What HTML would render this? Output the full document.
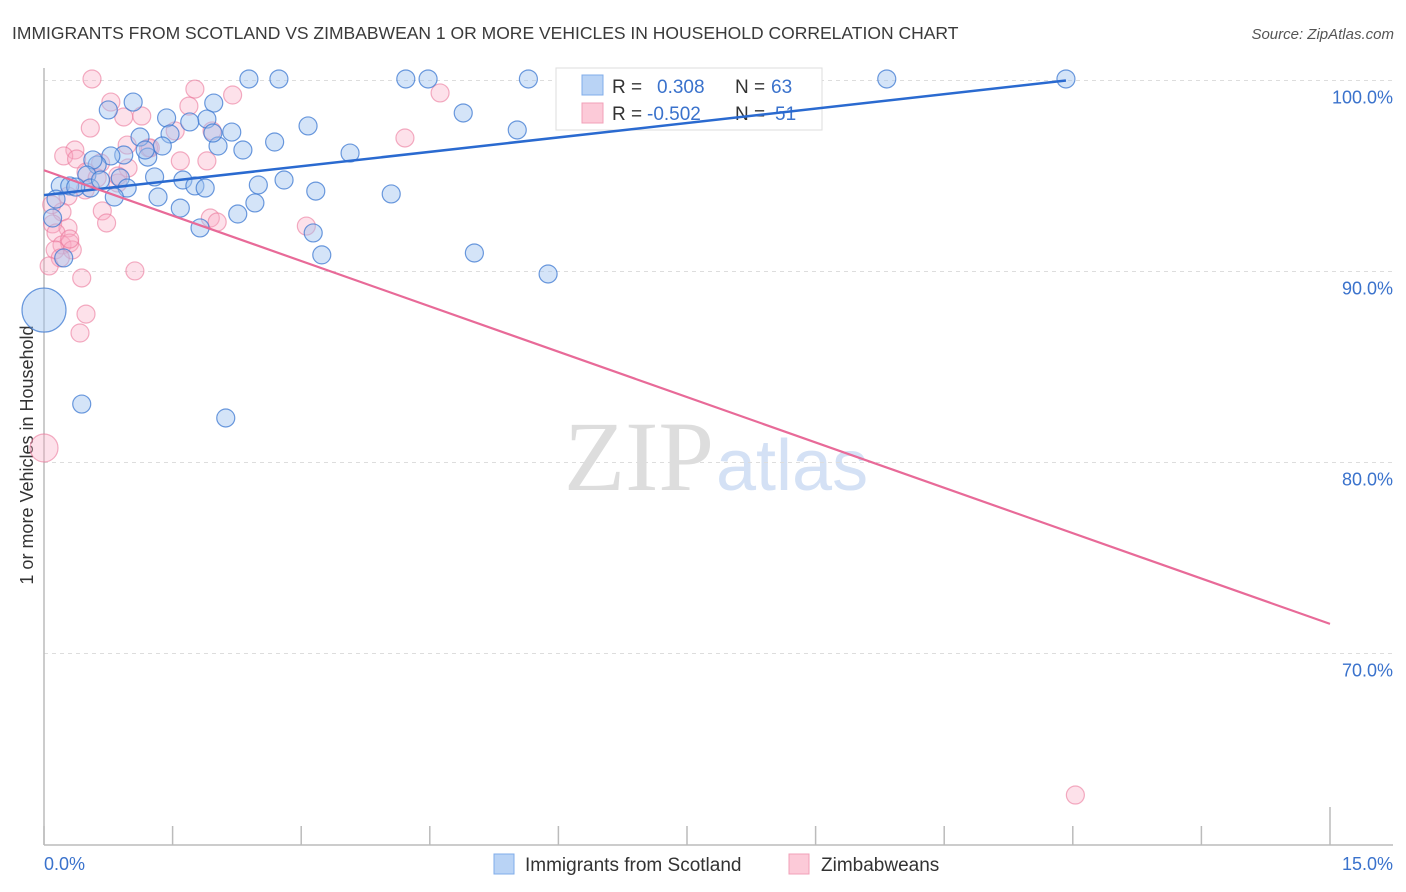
<!DOCTYPE html>
<html><head><meta charset="utf-8"><style>
body{margin:0;background:#fff;font-family:"Liberation Sans",sans-serif}
svg{display:block}
</style></head><body>
<svg id="chart" width="1406" height="892">
<text x="12" y="39" font-size="17.5" fill="#3a3a3a">IMMIGRANTS FROM SCOTLAND VS ZIMBABWEAN 1 OR MORE VEHICLES IN HOUSEHOLD CORRELATION CHART</text>
<text x="1394" y="39" font-size="15" font-style="italic" fill="#555" text-anchor="end">Source: ZipAtlas.com</text>
<text x="33" y="455" font-size="18" fill="#333" text-anchor="middle" transform="rotate(-90 33 455)">1 or more Vehicles in Household</text>
<text x="714" y="490" font-size="100" font-family="Liberation Serif,serif" fill="#ddd" text-anchor="end">ZIP</text>
<text x="716" y="490" font-size="72" fill="#d4e1f5">atlas</text>
<g id="grid"></g><g id="axes"></g><g id="pts"></g>
<g>
<rect x="556" y="68" width="266" height="62" fill="#fff" stroke="#ddd"/>
<rect x="582" y="75" width="21" height="20" fill="#b9d3f5" stroke="#80acea"/>
<rect x="582" y="103" width="21" height="20" fill="#fccad8" stroke="#f2a0b8"/>
<text x="612" y="93" font-size="19" fill="#333">R = </text>
<text x="657" y="93" font-size="19" fill="#3a72cc">0.308</text>
<text x="735" y="93" font-size="19" fill="#333">N = </text>
<text x="771" y="93" font-size="19" fill="#3a72cc">63</text>
<text x="612" y="120" font-size="19" fill="#333">R = </text>
<text x="647" y="120" font-size="19" fill="#3a72cc">-0.502</text>
<text x="735" y="120" font-size="19" fill="#333">N = </text>
<text x="775" y="120" font-size="19" fill="#3a72cc">51</text>
</g>
<g id="lines"></g>
<g>
<rect x="494" y="854" width="20" height="20" fill="#b9d3f5" stroke="#80acea"/>
<text x="525" y="871" font-size="19" fill="#333">Immigrants from Scotland</text>
<rect x="789" y="854" width="20" height="20" fill="#fccad8" stroke="#f2a0b8"/>
<text x="821" y="871" font-size="19" fill="#333">Zimbabweans</text>
</g>
</svg>
<script>
const yTicks=[100,90,80,70];
const yTickLabels=["100.0%","90.0%","80.0%","70.0%"];
const xTicks=[0,1.5,3,4.5,6,7.5,9,10.5,12,13.5,15];
const blueX=[2.39,2.74,4.22,4.48,5.65,9.83,11.92,1.04,0.75,1.98,4.89,1.43,1.90,1.70,2.19,3.08,5.52,1.12,1.47,2.03,2.32,2.69,1.38,3.57,0.93,0.78,1.21,0.62,0.57,0.50,0.89,1.29,0.19,0.30,0.54,0.97,1.62,1.76,1.88,2.50,2.80,3.17,4.05,1.33,0.82,0.14,2.46,1.59,2.26,0.10,1.82,3.14,5.02,3.24,0.23,5.88,0.0,0.44,2.12,1.97,0.37,0.66,1.18];
const blueY=[100.08,100.08,100.08,100.08,100.08,100.08,100.08,98.87,98.46,98.82,98.30,98.04,97.98,97.83,97.30,97.62,97.41,97.04,97.20,96.57,96.36,96.78,96.57,96.20,96.10,96.05,95.99,95.58,95.84,95.05,94.90,94.95,94.48,94.48,94.37,94.37,94.79,94.48,94.37,94.53,94.79,94.21,94.06,93.90,93.90,93.79,93.59,93.32,93.01,92.80,92.28,92.02,90.97,90.87,90.71,89.87,87.98,83.06,82.33,97.25,94.42,94.79,96.36];
const blueR=[9,9,9,9,9,9,9,9,9,9,9,9,9,9,9,9,9,9,9,9,9,9,9,9,9,9,9,9,9,9,9,9,9,9,9,9,9,9,9,9,9,9,9,9,9,9,9,9,9,9,9,9,9,9,9,9,22,9,9,9,9,9,9];
const pinkX=[0.56,1.76,2.20,4.62,0.78,1.69,1.14,0.93,0.54,1.53,1.96,4.21,0.36,0.97,1.22,0.23,0.38,1.59,1.90,0.66,0.98,0.49,0.62,0.86,0.28,0.48,0.21,0.68,0.73,1.94,2.02,3.06,0.10,0.28,0.14,0.21,0.30,0.33,0.13,0.19,0.06,0.44,1.06,0.49,0.42,0.0,12.03,1.24,0.86,0.30,0.09];
const pinkY=[100.08,99.55,99.24,99.35,98.87,98.66,98.14,98.09,97.51,97.36,97.36,96.99,96.36,96.62,96.47,96.05,95.89,95.79,95.79,95.68,95.42,95.21,94.90,94.63,93.95,94.27,93.12,93.17,92.54,92.80,92.59,92.38,92.49,92.28,92.02,91.39,91.49,91.13,91.13,90.71,90.29,89.66,90.03,87.77,86.78,80.76,62.59,96.47,95.0,91.7,93.5];
const pinkR=Array(51).fill(9);pinkR[45]=14;
const blueTrend=[0,94.0,11.92,100.0];
const pinkTrend=[0,95.3,15,71.55];
const X=v=>44+v*(1286/15);
const Y=v=>80.5+(100-v)*19.1;
const NS="http://www.w3.org/2000/svg";
function mk(p,t,a){const e=document.createElementNS(NS,t);for(const k in a)e.setAttribute(k,a[k]);document.getElementById(p).appendChild(e);return e;}
yTicks.forEach((v,i)=>{
 const g=mk('grid','line',{x1:44,x2:1393,y1:Y(v),y2:Y(v),stroke:'#ddd','stroke-dasharray':'4,4'});
 
 
 const t=mk('grid','text',{x:1393,y:Y(v)+23,'font-size':18,fill:'#3a72cc','text-anchor':'end'});
 t.textContent=yTickLabels[i];
 
 
});
const ax=mk('axes','line',{x1:44,x2:44,y1:68,y2:845,stroke:'#bbb','stroke-width':1.5});


const bx=mk('axes','line',{x1:44,x2:1393,y1:845,y2:845,stroke:'#bbb','stroke-width':1.5});


xTicks.forEach((v,i)=>{
 const t=mk('axes','line',{x1:X(v),x2:X(v),y1:(i==10?807:826),y2:845,stroke:'#bbb','stroke-width':1.5});
 
 
});
const l0=mk('axes','text',{x:44,y:870,'font-size':18,fill:'#3a72cc'});l0.textContent='0.0%';


const l1=mk('axes','text',{x:1393,y:870,'font-size':18,fill:'#3a72cc','text-anchor':'end'});l1.textContent='15.0%';


pinkX.forEach((v,i)=>{
 const c=mk('pts','circle',{cx:X(v),cy:Y(pinkY[i]),r:pinkR[i],fill:'rgba(248,170,195,0.35)',stroke:'rgba(235,120,155,0.6)','stroke-width':1.2});
 
 
});
blueX.forEach((v,i)=>{
 const c=mk('pts','circle',{cx:X(v),cy:Y(blueY[i]),r:blueR[i],fill:'rgba(160,195,240,0.45)',stroke:'rgba(60,120,210,0.75)','stroke-width':1.2});
 
 
});
const bl=mk('lines','line',{x1:X(blueTrend[0]),y1:Y(blueTrend[1]),x2:X(blueTrend[2]),y2:Y(blueTrend[3]),stroke:'#2a6ad0','stroke-width':2.5});


const pl=mk('lines','line',{x1:X(pinkTrend[0]),y1:Y(pinkTrend[1]),x2:X(pinkTrend[2]),y2:Y(pinkTrend[3]),stroke:'#e86a98','stroke-width':2.2});


</script>
</body></html>
